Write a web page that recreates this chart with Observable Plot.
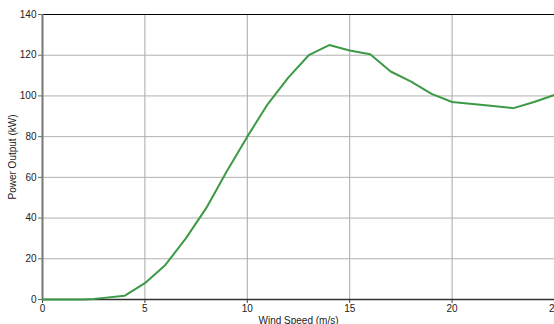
<!DOCTYPE html>
<html><head>
<meta charset="utf-8">
<script src="https://cdn.jsdelivr.net/npm/d3@7"></script>
<script src="https://cdn.jsdelivr.net/npm/@observablehq/plot@0.6"></script>
<style>
body{margin:0;background:#fff;overflow:hidden}
svg{font-family:"Liberation Sans",Arial,sans-serif}
</style>
</head><body><div id="chart"></div>
<script>
const windSpeed = [0,1,2,2.5,3,4,5,6,7,8,9,10,11,12,13,14,15,16,17,18,19,20,21,22,23,24,25];
const power = [0,0,0,0.2,0.8,1.8,8,17,30,45,63,80,96,109,120,125,122.3,120.5,112,107,101,97,96,95,94,97,100.5];
const xTicks = [0,5,10,15,20,25];
const yTicks = [0,20,40,60,80,100,120,140];
const xLabel = "Wind Speed (m/s)";
const yLabel = "Power Output (kW)";

const data = windSpeed.map((w,i) => ({w, p: power[i]}));

const chart = Plot.plot({
  width: 554,
  height: 324,
  marginLeft: 42,
  marginTop: 14,
  marginBottom: 25,
  marginRight: 0,
  style: {fontSize: "10px", color: "#222", background: "#fff", overflow: "visible"},
  x: {domain: [0,25], labelArrow: "none"},
  y: {domain: [0,140], labelArrow: "none"},
  marks: [
    Plot.gridX(xTicks.slice(1,-1), {stroke: "#a8a8a8", strokeOpacity: 1}),
    Plot.gridY(yTicks.slice(1,-1), {stroke: "#b0b0b0", strokeOpacity: 1}),
    Plot.axisX(xTicks, {tickSize: 4, tickPadding: 1, stroke: "#444", label: xLabel, labelArrow: "none", labelAnchor: "center", labelOffset: 24, fontSize: 10}),
    Plot.axisY(yTicks, {tickSize: 4, tickPadding: 2, stroke: "#666", label: yLabel, labelArrow: "none", labelAnchor: "center", labelOffset: 34, fontSize: 10}),
    Plot.ruleY([140], {stroke: "#000", strokeWidth: 1.2}),
    Plot.ruleY([0], {stroke: "#333", strokeWidth: 1.5}),
    Plot.ruleX([0], {stroke: "#777", strokeWidth: 2}),
    Plot.line(data, {x: "w", y: "p", stroke: "#3c9a46", strokeWidth: 2})
  ]
});
document.getElementById("chart").appendChild(chart);
</script>
</body></html>
